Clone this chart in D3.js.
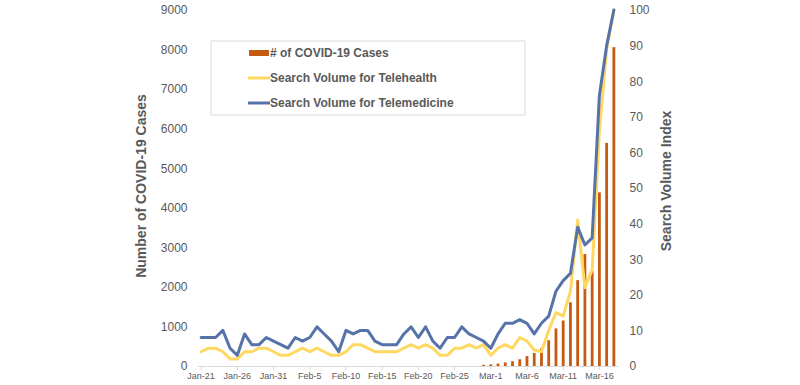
<!DOCTYPE html>
<html>
<head>
<meta charset="utf-8">
<title>COVID-19 cases and telehealth search volume</title>
<script src="https://d3js.org/d3.v7.min.js"></script>
<style>
  body { margin: 0; background: #fff; }
  svg text { font-family: "Liberation Sans", Arial, sans-serif; fill: #595959; }
  .line { fill: none; stroke-width: 3px; stroke-linejoin: round; stroke-linecap: round; }
</style>
</head>
<body>
<svg width="800" height="385"></svg>
<script>
// days from Jan 21 to Mar 18, 2020
const days = d3.timeDays(new Date(2020, 0, 21), new Date(2020, 2, 19));

const tickLabels = ["Jan-21", "Jan-26", "Jan-31", "Feb-5", "Feb-10", "Feb-15",
  "Feb-20", "Feb-25", "Mar-1", "Mar-6", "Mar-11", "Mar-16"];

const cases = [
  0, 0, 0, 0, 0, 0, 0, 0, 0, 0,
  0, 0, 0, 0, 0, 0, 0, 0, 0, 0,
  0, 0, 0, 0, 0, 0, 0, 0, 0, 0,
  0, 0, 0, 0, 0, 0, 0, 0, 0, 30,
  40, 60, 90, 120, 170, 250, 330, 450, 650, 950,
  1150, 1610, 2170, 2830, 2400, 4390, 5640, 8060
];

const telehealth = [
  4, 5, 5, 4, 2, 2, 4, 4, 5, 5,
  4, 3, 3, 4, 5, 4, 5, 4, 3, 3,
  4, 6, 6, 5, 4, 4, 4, 4, 5, 6,
  5, 6, 5, 3, 3, 5, 5, 6, 5, 6,
  3, 5, 6, 5, 8, 7, 4.5, 4, 10, 15,
  14, 21, 41, 22, 27, 66, 89, 100
];

const telemedicine = [
  8, 8, 8, 10, 5, 3, 9, 6, 6, 8,
  7, 6, 5, 8, 7, 8, 11, 9, 7, 4,
  10, 9, 10, 10, 7, 6, 6, 6, 9, 11,
  8, 11, 7, 5, 8, 8, 11, 9, 8, 7,
  5, 9, 12, 12, 13, 12, 9, 12, 14, 21,
  24, 26, 39, 34, 36, 76, 90, 100
];

const fmt = d3.timeFormat("%b-%-d");

const svg = d3.select("svg");
const plot = { left: 197.5, right: 617.5, top: 10, bottom: 366 };

const x = d3.scaleBand()
  .domain(days.map(fmt))
  .range([plot.left, plot.right]);

const yLeft = d3.scaleLinear().domain([0, 9000]).range([plot.bottom, plot.top]);
const yRight = d3.scaleLinear().domain([0, 100]).range([plot.bottom, plot.top]);

const cx = function(i) { return x(fmt(days[i])) + x.bandwidth() / 2; };

// left axis
const gl = svg.append("g")
  .attr("transform", "translate(" + plot.left + ",0)")
  .call(d3.axisLeft(yLeft).tickValues(d3.range(0, 9001, 1000)).tickSize(0).tickPadding(10).tickFormat(d3.format("d")));
gl.select(".domain").remove();
gl.selectAll("text").style("font-size", "12px").style("fill", "#595959");

// right axis
const gr = svg.append("g")
  .attr("transform", "translate(" + plot.right + ",0)")
  .call(d3.axisRight(yRight).tickValues(d3.range(0, 101, 10)).tickSize(0).tickPadding(12));
gr.select(".domain").remove();
gr.selectAll("text").style("font-size", "12px").style("fill", "#595959");

// bottom axis
const gb = svg.append("g")
  .attr("transform", "translate(0," + plot.bottom + ")")
  .call(d3.axisBottom(x).tickValues(tickLabels).tickSize(4).tickPadding(3).tickSizeOuter(0));
gb.select(".domain").attr("stroke", "#d9d9d9");
gb.selectAll(".tick line").attr("stroke", "#d9d9d9");
gb.selectAll("text").style("font-size", "9px").style("fill", "#595959");

// bars
svg.append("g").selectAll("rect")
  .data(cases)
  .join("rect")
  .attr("x", function(d, i) { return cx(i) - 1.4; })
  .attr("width", 2.8)
  .attr("y", function(d) { return yLeft(d); })
  .attr("height", function(d) { return plot.bottom - yLeft(d); })
  .attr("fill", "#c55a11");

const line = d3.line()
  .x(function(d, i) { return cx(i); })
  .y(function(d) { return yRight(d); });

svg.append("path").datum(telehealth)
  .attr("class", "line").attr("stroke", "#ffd862").attr("d", line);
svg.append("path").datum(telemedicine)
  .attr("class", "line").attr("stroke", "#5672a8").attr("d", line);

// axis titles
svg.append("text")
  .attr("transform", "translate(146,186) rotate(-90)")
  .attr("text-anchor", "middle")
  .style("font-size", "14px").style("font-weight", "bold")
  .text("Number of COVID-19 Cases");

svg.append("text")
  .attr("transform", "translate(671,181) rotate(-90)")
  .attr("text-anchor", "middle")
  .style("font-size", "14px").style("font-weight", "bold")
  .text("Search Volume Index");

// legend
const legend = svg.append("g");
legend.append("rect")
  .attr("x", 211).attr("y", 41).attr("width", 314).attr("height", 74)
  .attr("fill", "#fff").attr("stroke", "#d9d9d9");

const items = [
  { name: "# of COVID-19 Cases", color: "#c55a11", type: "bar" },
  { name: "Search Volume for Telehealth", color: "#ffd862", type: "line" },
  { name: "Search Volume for Telemedicine", color: "#5672a8", type: "line" }
];

items.forEach(function(it, i) {
  const yy = 53 + i * 25;
  if (it.type === "bar") {
    legend.append("rect").attr("x", 249).attr("y", yy - 3).attr("width", 20).attr("height", 6).attr("fill", it.color);
  } else {
    legend.append("line").attr("x1", 248).attr("x2", 270).attr("y1", yy).attr("y2", yy)
      .attr("stroke", it.color).attr("stroke-width", 3);
  }
  legend.append("text")
    .attr("x", 270).attr("y", yy).attr("dy", "0.35em")
    .style("font-size", "12px").style("font-weight", "bold")
    .text(it.name);
});
</script>
</body>
</html>
